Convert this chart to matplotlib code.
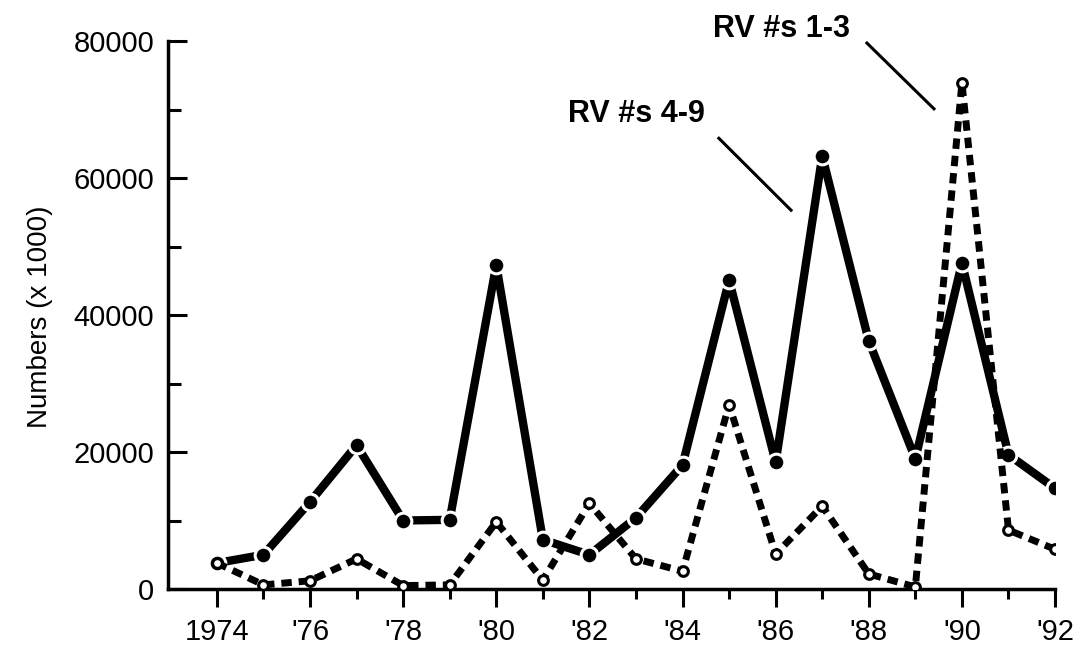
import numpy as np
import matplotlib.pyplot as plt
from matplotlib.ticker import MultipleLocator, FixedLocator

plt.rcParams['font.family'] = ['Liberation Sans', 'DejaVu Sans']

years = list(range(1974, 1993))
# RV #s 4-9 (filled circles, solid line)
rv_4_9 = [3800, 5000, 12700, 21000, 10000, 10100, 47300, 7200, 5000, 10400,
          18100, 45100, 18500, 63200, 36200, 19000, 47600, 19600, 14700]
# RV #s 1-3 (open circles, dashed line)
rv_1_3 = [3800, 600, 1200, 4400, 500, 600, 9800, 1300, 12500, 4400,
          2600, 26900, 5100, 12100, 2200, 300, 73900, 8600, 5800]
tick_years = list(range(1974, 1993, 2))
tick_labels = ['1974'] + ["'%02d" % (y % 100) for y in tick_years[1:]]

fig = plt.figure(figsize=(10.81, 6.53), dpi=100)
ax = fig.add_axes([0.1554, 0.098, 0.8206, 0.8392])

ax.plot(years, rv_1_3, color='black', lw=5.0, dashes=(1.5, 1.0),
        marker='o', ms=7, mfc='white', mec='black', mew=2.2, zorder=3)
ax.plot(years, rv_4_9, color='black', lw=6.0, solid_capstyle='butt',
        marker='o', ms=12, mfc='black', mec='white', mew=2.2, zorder=2)

ax.set_xlim(1972.95, 1992)
ax.set_ylim(0, 80000)
for s in ['top', 'right']:
    ax.spines[s].set_visible(False)
ax.spines['left'].set_linewidth(2.5)
ax.spines['bottom'].set_linewidth(2.5)
ax.spines['bottom'].set_bounds(1972.95, 1992)

ax.xaxis.set_major_locator(FixedLocator(tick_years))
ax.set_xticklabels(tick_labels)
ax.xaxis.set_minor_locator(FixedLocator(range(1975, 1992, 2)))
ax.yaxis.set_major_locator(MultipleLocator(20000))
ax.yaxis.set_minor_locator(MultipleLocator(10000))

ax.tick_params(axis='x', which='major', direction='out', length=13, width=2.2,
               labelsize=21, pad=8)
ax.tick_params(axis='x', which='minor', direction='out', length=7, width=2.2)
ax.tick_params(axis='y', which='major', direction='in', length=14, width=2.2,
               labelsize=21, pad=10)
ax.tick_params(axis='y', which='minor', direction='in', length=9, width=2.2)

fig.text(40 / 1081, 1 - 317 / 653, 'Numbers (x 1000)', rotation=90,
         ha='center', va='center', fontsize=20)

ax.text(1986.13, 81750, 'RV #s 1-3', ha='center', va='center',
        fontsize=22, fontweight='bold', clip_on=False)
ax.text(1983.0, 69300, 'RV #s 4-9', ha='center', va='center',
        fontsize=22, fontweight='bold', clip_on=False)
ax.plot([1987.96, 1989.40], [79700, 70100], color='black', lw=2.2, clip_on=False)
ax.plot([1984.78, 1986.33], [65800, 55300], color='black', lw=2.2, clip_on=False)

fig.savefig('out.png', dpi=100)
